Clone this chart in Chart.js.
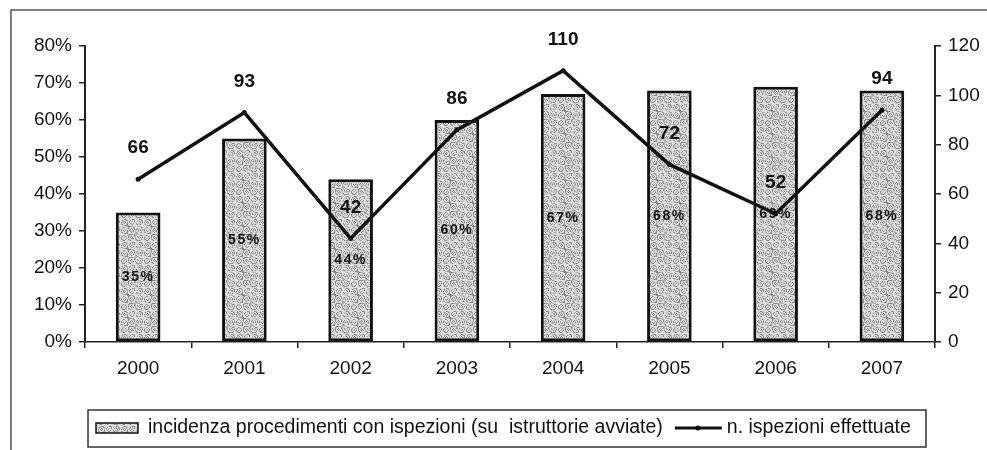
<!DOCTYPE html>
<html>
<head>
<meta charset="utf-8">
<script src="https://cdn.jsdelivr.net/npm/chart.js@4/dist/chart.umd.min.js"></script>
<style>
  html, body { margin: 0; padding: 0; background: #fff; }
  #wrap { position: relative; width: 987px; height: 450px; }
</style>
</head>
<body>
<div id="wrap"><canvas id="grafico" width="987" height="450"></canvas></div>
<script>
// Dati
const anni       = ["2000", "2001", "2002", "2003", "2004", "2005", "2006", "2007"];
const incidenza  = [35, 55, 44, 60, 67, 68, 69, 68];          // % procedimenti con ispezioni
const ispezioni  = [66, 93, 42, 86, 110, 72, 52, 94];          // n. ispezioni effettuate
const tickPerc   = [0, 10, 20, 30, 40, 50, 60, 70, 80];
const tickNum    = [0, 20, 40, 60, 80, 100, 120];
const labelBarre = "incidenza procedimenti con ispezioni (su  istruttorie avviate)";
const labelLinea = "n. ispezioni effettuate";

const FONT = "'Liberation Sans', Arial, sans-serif";
Chart.defaults.font.family = FONT;
Chart.defaults.color = "#111";

// Retino grigio delle barre (pattern fisso, effetto puntinato)
function retino(ctx) {
  const N = 23;
  const c = document.createElement("canvas");
  c.width = c.height = N;
  const g = c.getContext("2d");
  g.fillStyle = "#dcdcdc";
  g.fillRect(0, 0, N, N);
  for (let y = 0; y < N; y++)
    for (let x = 0; x < N; x++) {
      const h = (x * 374761 + y * 668265 + x * y * 2147) % 97;
      if (h < 22) { g.fillStyle = "#8a8a8a"; g.fillRect(x, y, 1, 1); }
      else if (h < 40) { g.fillStyle = "#b4b4b4"; g.fillRect(x, y, 1, 1); }
    }
  return ctx.createPattern(c, "repeat");
}

const canvas = document.getElementById("grafico");
const pattern = retino(canvas.getContext("2d"));

// ── Plugin: cornice, etichette dati e legenda ────────────────────────────────
const cornice = {
  id: "cornice",
  beforeDraw(chart) {
    const ctx = chart.ctx;
    ctx.save();
    ctx.strokeStyle = "#555";
    ctx.lineWidth = 1.5;
    ctx.strokeRect(11, 10, 1000, 460);
    ctx.restore();
  },
};

const etichette = {
  id: "etichette",
  afterDatasetDraw(chart, args) {
    if (args.index !== 0) return;
    // percentuali dentro le barre (sotto la linea)
    const ctx = chart.ctx;
    ctx.save();
    ctx.font = `bold 14px ${FONT}`;
    ctx.letterSpacing = "1.5px";
    ctx.fillStyle = "#111";
    ctx.textAlign = "center";
    ctx.textBaseline = "middle";
    args.meta.data.forEach((bar, i) => {
      ctx.fillText(incidenza[i] + "%", bar.x, (bar.y + bar.base) / 2);
    });
    ctx.restore();
  },
  afterDatasetsDraw(chart) {
    const ctx = chart.ctx;
    const meta = chart.getDatasetMeta(1);
    ctx.save();
    ctx.font = `bold 19px ${FONT}`;
    ctx.fillStyle = "#111";
    ctx.textAlign = "center";
    ctx.textBaseline = "middle";
    meta.data.forEach((pt, i) => {
      ctx.fillText(String(ispezioni[i]), pt.x, pt.y - 31);
    });
    ctx.restore();
  },
};

const legenda = {
  id: "legenda",
  afterDraw(chart) {
    const ctx = chart.ctx;
    ctx.save();
    ctx.strokeStyle = "#333";
    ctx.lineWidth = 1.5;
    ctx.strokeRect(88, 410, 838, 37);

    const cy = 428;
    // campione barre
    ctx.fillStyle = pattern;
    ctx.fillRect(96, cy - 5, 42, 10);
    ctx.strokeStyle = "#111";
    ctx.lineWidth = 1.5;
    ctx.strokeRect(96, cy - 5, 42, 10);

    ctx.font = `19.5px ${FONT}`;
    ctx.fillStyle = "#111";
    ctx.textBaseline = "middle";
    ctx.fillText(labelBarre, 148, cy);
    const x1 = 148 + ctx.measureText(labelBarre).width + 12;

    // campione linea
    ctx.strokeStyle = "#111";
    ctx.lineWidth = 3;
    ctx.beginPath();
    ctx.moveTo(x1, cy);
    ctx.lineTo(x1 + 47, cy);
    ctx.stroke();
    ctx.beginPath();
    ctx.arc(x1 + 23, cy, 2.5, 0, Math.PI * 2);
    ctx.fillStyle = "#111";
    ctx.fill();
    ctx.fillText(labelLinea, x1 + 52, cy);
    ctx.restore();
  },
};

new Chart(canvas, {
  type: "bar",
  data: {
    labels: anni,
    datasets: [
      {
        type: "bar",
        label: labelBarre,
        data: incidenza,
        yAxisID: "yPerc",
        backgroundColor: pattern,
        borderColor: "#111",
        borderWidth: 3,
        borderSkipped: false,
        barPercentage: 0.42,
        categoryPercentage: 1,
        order: 2,
      },
      {
        type: "line",
        label: labelLinea,
        data: ispezioni,
        yAxisID: "yNum",
        borderColor: "#111",
        borderWidth: 3.5,
        pointRadius: 2.5,
        pointBackgroundColor: "#111",
        pointBorderWidth: 0,
        tension: 0,
        fill: false,
        clip: false,
        order: 1,
      },
    ],
  },
  options: {
    responsive: false,
    animation: false,
    layout: { padding: { top: 46, left: 0, right: 0, bottom: 0 } },
    plugins: {
      legend: { display: false },
      tooltip: { enabled: false },
    },
    scales: {
      x: {
        offset: true,
        afterFit: s => { s.height = 108; },
        grid: { offset: true, drawOnChartArea: false, drawTicks: true, tickLength: 6, color: "#222", lineWidth: 1.5 },
        border: { color: "#222", width: 1.5 },
        ticks: { font: { size: 19 }, color: "#111", padding: 9, maxRotation: 0 },
      },
      yPerc: {
        position: "left",
        min: 0,
        max: 80,
        afterFit: s => { s.width = 85; },
        afterBuildTicks: s => { s.ticks = tickPerc.map(v => ({ value: v })); },
        grid: { drawOnChartArea: false, tickLength: 6, color: "#222", lineWidth: 1.5 },
        border: { color: "#222", width: 2 },
        ticks: { font: { size: 19 }, color: "#111", padding: 7, callback: v => v + "%" },
      },
      yNum: {
        position: "right",
        min: 0,
        max: 120,
        afterFit: s => { s.width = 52; },
        afterBuildTicks: s => { s.ticks = tickNum.map(v => ({ value: v })); },
        grid: { drawOnChartArea: false, tickLength: 6, color: "#222", lineWidth: 1.5 },
        border: { color: "#222", width: 2 },
        ticks: { font: { size: 19 }, color: "#111", padding: 7 },
      },
    },
  },
  plugins: [cornice, etichette, legenda],
});
</script>
</body>
</html>
